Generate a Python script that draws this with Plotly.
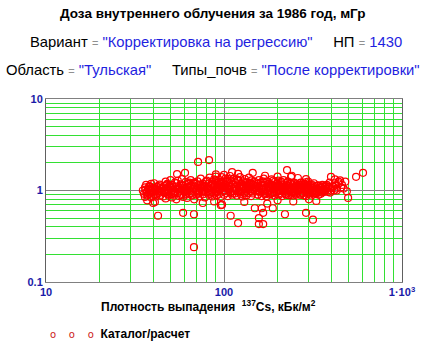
import plotly.graph_objects as go

# ---------------- data ----------------
band_a_x = [35, 35.5, 36, 36, 36.5, 37, 37, 37.5, 38, 38, 38.5, 39, 39, 39.5, 40, 40, 40.5, 41, 41.5, 42, 42, 43, 43.5, 44, 44.5]
band_a_y = [1.0, 0.92, 1.08, 0.85, 1.15, 0.97, 0.88, 1.05, 1.12, 0.93, 1.0, 0.84, 1.18, 0.95, 1.07, 0.9, 1.2, 0.98, 0.86, 1.1, 1.02, 0.94, 1.16, 0.88, 1.04]

band_b_x = [45, 45.5, 46, 46, 47, 47, 47.5, 48, 48, 49, 49, 50, 50, 50.5, 51, 51, 52, 52, 53, 53,
            54, 54, 55, 55, 56, 56, 57, 57, 58, 58, 59, 59, 60, 60, 61, 61, 62, 62, 63, 64,
            64, 65, 65, 66, 67, 67, 68, 68, 69, 70, 70, 71, 72, 72, 73, 74, 74, 75, 76, 76,
            77, 78, 78, 79, 80]
band_b_y = [1.0, 0.86, 1.12, 0.95, 1.25, 0.82, 1.05, 0.92, 1.18, 1.0, 0.88, 1.3, 1.08, 0.96, 0.84, 1.15, 1.02, 0.9, 1.22, 0.98,
            1.1, 0.8, 1.28, 0.94, 1.06, 0.87, 1.17, 1.0, 0.92, 1.33, 1.12, 0.85, 1.04, 0.96, 1.24, 0.9, 1.08, 0.83, 1.2, 1.0,
            0.93, 1.14, 1.3, 0.88, 1.05, 0.97, 1.22, 0.8, 1.1, 1.02, 0.9, 1.26, 0.95, 1.16, 0.86, 1.07, 1.35, 0.99, 0.91, 1.19,
            1.03, 0.84, 1.13, 0.96, 1.28]

band_c_x = [81, 82, 82, 83, 84, 84, 85, 86, 86, 87, 88, 88, 89, 90, 90, 91, 92, 92, 93, 94,
            94, 95, 96, 96, 97, 98, 98, 99, 100, 100, 101, 102, 103, 104, 104, 105, 106, 107, 108, 108,
            109, 110, 111, 112, 113, 114, 115, 116, 117, 118, 119, 120, 121, 122, 123, 124, 125, 126, 127, 128,
            129, 130, 131, 132, 133, 134, 135, 136, 137, 138, 139, 140, 141, 142, 143, 144, 145, 146, 148, 150]
band_c_y = [1.05, 0.9, 1.2, 1.38, 0.95, 1.12, 1.0, 0.86, 1.25, 1.08,
            0.93, 1.32, 1.15, 0.98, 1.42, 0.88, 1.1, 1.22, 1.02, 0.92,
            1.3, 1.06, 0.85, 1.18, 1.4, 0.97, 1.12, 1.26, 1.0, 0.9,
            1.15, 1.35, 0.94, 1.08, 1.24, 0.87, 1.2, 1.03, 1.44, 0.96,
            1.1, 1.28, 0.9, 1.17, 1.05, 1.36, 0.93, 1.22, 1.0, 0.88,
            1.14, 1.3, 0.97, 1.08, 1.4, 0.91, 1.19, 1.04, 0.86, 1.26,
            1.12, 0.95, 1.33, 1.0, 1.16, 0.89, 1.23, 1.07, 0.94, 1.38,
            1.1, 0.98, 1.2, 0.87, 1.29, 1.04, 0.93, 1.15, 1.25, 1.0]

band_d_x = [152, 154, 155, 157, 158, 160, 161, 163, 164, 166, 167, 169, 170, 172, 173, 175, 176, 178, 180, 181,
            183, 185, 186, 188, 190, 192, 193, 195, 197, 199, 200, 202, 204, 206, 208, 210, 212, 214, 216, 218,
            220, 222, 224, 226, 228, 230, 232, 234, 236, 238, 240, 242, 244, 246, 248, 250, 252, 254, 256, 258,
            153, 159, 165, 171, 177, 184, 191, 198, 205, 213, 221, 229, 237, 245, 253]
band_d_y = [1.0, 1.18, 0.9, 1.3, 1.06, 0.95, 1.22, 0.87, 1.12, 1.02,
            1.35, 0.92, 1.15, 1.04, 0.86, 1.26, 0.98, 1.1, 1.2, 0.9,
            1.05, 1.32, 0.94, 1.14, 1.0, 0.88, 1.24, 1.08, 0.96, 1.18,
            1.03, 1.28, 0.9, 1.12, 0.99, 1.2, 0.87, 1.06, 1.3, 0.95,
            1.1, 0.92, 1.16, 1.02, 1.25, 0.89, 1.08, 0.97, 1.2, 0.93,
            1.04, 1.14, 0.88, 1.0, 1.22, 0.95, 1.1, 0.9, 1.17, 1.02,
            1.12, 0.97, 1.26, 0.91, 1.07, 1.15, 0.94, 1.2, 1.0, 1.1,
            0.92, 1.05, 1.18, 0.96, 1.12]

band_e_x = [262, 265, 268, 270, 273, 276, 279, 282, 285, 288, 291, 294, 297, 300, 304, 308, 312, 316, 320, 324,
            328, 332, 336, 340, 345, 350, 355, 360, 366, 372, 378, 385, 392, 400, 410, 420, 430, 440,
            270, 290, 310, 330, 350, 375, 455]
band_e_y = [1.0, 1.15, 0.9, 1.22, 1.05, 0.95, 1.1, 0.88, 1.18, 1.0,
            1.08, 0.92, 1.25, 1.02, 0.9, 1.12, 0.97, 1.06, 1.2, 0.93,
            1.04, 0.98, 1.14, 0.9, 1.0, 1.08, 0.95, 1.1, 0.98, 1.04,
            1.15, 0.96, 1.22, 1.0, 1.1, 1.2, 1.05, 1.25, 0.9, 0.87,
            1.17, 0.95, 0.92, 1.12, 1.08]

band_f_x = [36.2, 37.3, 38.4, 39.6, 40.8, 41.9, 43.1, 44.2, 45.4, 46.6,
            47.8, 49.1, 50.3, 51.6, 52.9, 54.2, 55.6, 57.1, 58.6, 60.1,
            61.6, 63.2, 64.8, 66.4, 68.1, 69.8, 71.6, 73.4, 75.3, 77.2,
            79.1, 81.1, 83.2, 85.3, 87.4, 89.6, 91.9, 94.2, 96.6, 99.0,
            101.5, 104.1, 106.7, 109.4, 112.2, 115.0, 117.9, 120.9, 124.0, 127.1,
            130.3, 133.6, 137.0, 140.5, 144.0, 147.6, 36.8, 39.0, 41.3, 43.7,
            46.2, 48.9, 51.7, 54.7, 57.9, 61.2, 64.7, 68.4, 72.4, 76.6,
            81.0, 85.7, 90.6, 95.8, 101.3, 107.2, 113.4, 119.9, 126.8, 134.1,
            141.8, 149.9, 38.0, 42.5, 47.2, 52.3, 58.0, 63.9, 70.5, 78.0,
            86.0, 95.0, 105.0, 116.0, 128.0, 139.0, 49.5, 65.5, 92.5, 122.5]
band_f_y = [1.02, 0.9, 1.1, 0.96, 1.04, 0.92, 1.12, 0.98, 1.06, 0.94,
            1.16, 1.0, 0.91, 1.09, 0.97, 1.2, 1.03, 0.89, 1.13, 1.0,
            0.95, 1.18, 1.07, 0.9, 1.22, 1.01, 0.93, 1.15, 1.05, 0.97,
            1.25, 1.1, 0.92, 1.19, 1.03, 1.3, 0.96, 1.14, 1.07, 1.21,
            1.0, 1.27, 1.12, 0.94, 1.18, 1.05, 1.32, 0.99, 1.16, 1.08,
            0.93, 1.23, 1.04, 1.14, 0.97, 1.2, 0.96, 1.01, 0.9, 1.06,
            1.0, 1.1, 0.95, 1.05, 1.14, 0.92, 1.08, 1.18, 0.98, 1.12,
            1.05, 1.15, 1.0, 1.24, 1.09, 1.17, 0.99, 1.28, 1.11, 1.03,
            1.2, 1.08, 1.04, 0.97, 1.13, 0.93, 1.06, 1.22, 0.97, 1.1,
            0.95, 1.18, 1.34, 1.05, 1.1, 1.22, 1.09, 1.12, 1.04, 0.95]

band_g_x = [151, 156, 162, 168, 174, 179, 185, 190, 196, 201,
            207, 211, 217, 223, 227, 233, 239, 243, 249, 255,
            259, 264, 269, 274, 278, 283, 287, 293, 298, 303,
            307, 313, 318, 323, 327, 333, 338, 343, 348, 353,
            358, 364, 369, 375, 381, 388, 395, 402, 415, 425,
            155, 167, 178, 189, 201, 215, 227, 241, 255, 267,
            281, 295, 311, 326, 342, 357, 371, 386, 156, 183,
            209, 231, 263, 287, 319, 347, 162, 196, 248, 305]
band_g_y = [1.08, 0.98, 1.14, 1.02, 0.93, 1.18, 1.06, 0.96, 1.1, 1.0,
            0.94, 1.16, 1.04, 0.9, 1.12, 1.0, 1.21, 0.95, 1.07, 1.13,
            0.97, 1.04, 1.1, 0.94, 1.16, 1.02, 0.96, 1.0, 1.1, 0.95,
            1.06, 1.0, 0.93, 1.09, 0.98, 1.04, 1.13, 0.96, 1.08, 1.0,
            1.02, 0.96, 1.12, 1.06, 1.0, 1.1, 0.95, 1.06, 1.0, 1.14,
            0.9, 1.22, 1.0, 1.28, 1.1, 0.98, 1.22, 1.04, 0.93, 1.2,
            1.04, 1.15, 1.08, 0.93, 1.02, 1.15, 1.0, 1.08, 1.2, 0.92,
            1.25, 1.14, 1.1, 1.23, 1.0, 1.12, 1.03, 1.06, 0.98, 1.16]

right_x = [420, 440, 460, 470, 480, 490, 430]
right_y = [1.32, 1.2, 1.15, 1.05, 1.25, 0.98, 1.0]

edge_x = [37, 40, 76, 96, 88, 130, 175, 200, 245, 300, 330, 90, 100, 120, 170, 200, 240]
edge_y = [0.78, 0.73, 0.73, 0.69, 0.76, 0.75, 0.72, 0.78, 0.76, 0.8, 0.77, 1.5, 1.48, 1.52, 1.45, 1.42, 1.45]

outlier_x = [71.5, 82.4, 42.6, 58.9, 67.8, 67.8, 54.5, 60.4, 40.9, 111, 145, 226, 238, 260, 289,
             109, 120, 149, 163, 166, 157, 157, 166, 188, 220, 289, 97.5, 399, 449, 552, 604, 498, 316]
outlier_y = [2.05, 2.15, 0.53, 0.57, 0.55, 0.24, 1.51, 1.56, 0.75, 1.59, 1.56, 1.67, 1.41, 1.37, 1.33,
             0.53, 0.44, 0.64, 0.64, 0.57, 0.50, 0.43, 0.43, 0.64, 0.55, 0.57, 0.70, 1.41, 1.29, 1.41, 1.56, 0.83, 0.48]

x_tick_vals = [10, 100, 1000]
x_tick_text = ["<b>10</b>", "<b>100</b>", "<b>1·10<sup>3</sup></b>"]
y_tick_vals = [0.1, 1, 10]
y_tick_text = ["<b>0.1</b>", "<b>1</b>", "<b>10</b>"]
minor_x = [20, 30, 40, 50, 60, 70, 80, 90, 200, 300, 400, 500, 600, 700, 800, 900]
minor_y = [0.2, 0.3, 0.4, 0.5, 0.6, 0.7, 0.8, 0.9, 2, 3, 4, 5, 6, 7, 8, 9]

groups = [(band_a_x, band_a_y), (band_b_x, band_b_y), (band_c_x, band_c_y),
          (band_d_x, band_d_y), (band_e_x, band_e_y), (band_f_x, band_f_y),
          (band_g_x, band_g_y), (right_x, right_y), (edge_x, edge_y), (outlier_x, outlier_y)]
xs, ys = [], []
for gx, gy in groups:
    assert len(gx) == len(gy)
    xs += gx
    ys += gy

# ---------------- figure ----------------
GREEN = "#33e033"
NAVY = "#1a1aa8"
BLUE = "#1f1fe0"
txt_font = "Liberation Sans, Arial"

fig = go.Figure()
fig.add_trace(go.Scatter(
    x=xs, y=ys, mode="markers", name="Каталог/расчет",
    marker=dict(symbol="circle-open", size=7, color="#ff0000", line=dict(width=1.2, color="#ff0000")),
    showlegend=False,
))

axis_font = dict(family=txt_font, size=11, color=NAVY)
fig.update_xaxes(
    type="log", range=[1, 3], automargin=False,
    tickmode="array", tickvals=x_tick_vals, ticktext=x_tick_text,
    tickfont=axis_font, ticks="", ticklen=0,
    showgrid=True, gridcolor="#808080", gridwidth=1,
    minor=dict(tickmode="array", tickvals=minor_x, showgrid=True, gridcolor=GREEN, gridwidth=1, ticks=""),
    showline=True, linecolor="#808080", linewidth=1, mirror=True,
    zeroline=False,
)
fig.update_yaxes(
    type="log", range=[-1, 1], automargin=False,
    tickmode="array", tickvals=y_tick_vals, ticktext=y_tick_text,
    tickfont=axis_font, ticks="", ticklen=0,
    showgrid=True, gridcolor="#808080", gridwidth=1,
    minor=dict(tickmode="array", tickvals=minor_y, showgrid=True, gridcolor=GREEN, gridwidth=1, ticks=""),
    showline=True, linecolor="#606060", linewidth=1, mirror=True,
    zeroline=False,
)

eq = "<span style='color:#909090;font-size:11px'>=</span>"
sp = "&nbsp;" * 5
annotations = [
    (0.47, 14, 13.5, "<b>Доза внутреннего облучения за 1986 год, мГр</b>"),
    (0.478, 42, 14.8, "Вариант " + eq + " <span style='color:%s'>\"Корректировка на регрессию\"</span>" % BLUE
     + sp + "НП " + eq + " <span style='color:%s'>1430</span>" % BLUE),
    (0.468, 70, 14.8, "Область " + eq + " <span style='color:%s'>\"Тульская\"</span>" % BLUE
     + sp + "Типы_почв " + eq + " <span style='color:%s'>\"После корректировки\"</span>" % BLUE),
    (0.456, 306, 12, "<b>Плотность выпадения&nbsp;&nbsp;<sup>137</sup>Cs, кБк/м<sup>2</sup></b>"),
]
plot_top, plot_bot = 99, 282
for xp, yp, fs, text in annotations:
    fig.add_annotation(
        x=xp, y=(plot_bot - yp) / (plot_bot - plot_top), xref="paper", yref="paper",
        xanchor="center", yanchor="middle", showarrow=False, text=text,
        font=dict(family=txt_font, size=fs, color="black"),
    )
# legend line
fig.add_annotation(
    x=(48 - 46) / 356, y=(plot_bot - 334) / (plot_bot - plot_top), xref="paper", yref="paper",
    xanchor="left", yanchor="middle", showarrow=False,
    text="<span style='color:#cc2020;font-family:DejaVu Sans;font-size:10px'>o&nbsp;&nbsp;&nbsp;&nbsp;o&nbsp;&nbsp;&nbsp;&nbsp;o</span>&nbsp;&nbsp;<b>Каталог/расчет</b>",
    font=dict(family=txt_font, size=12, color="black"),
)

fig.update_layout(
    width=434, height=349,
    margin=dict(l=46, r=32, t=99, b=67),
    paper_bgcolor="white", plot_bgcolor="white",
    font=dict(family=txt_font),
)

fig.write_html("out.html", config={"displayModeBar": False},
               post_script="document.body.style.margin='0';document.body.style.overflow='hidden';")
